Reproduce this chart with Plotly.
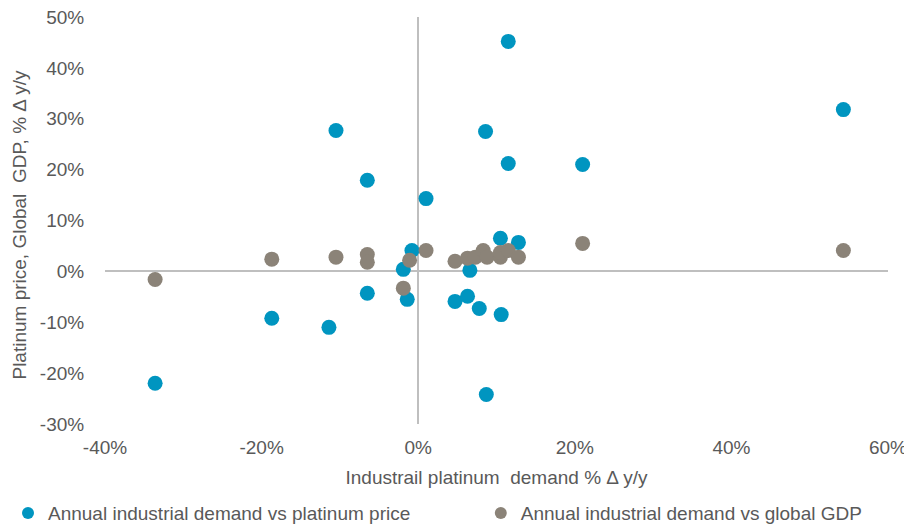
import plotly.graph_objects as go

# Annual industrial demand vs platinum price (% y/y)
price_x = [-33.6, -18.7, -11.4, -10.5, -6.5, -6.5, -1.9, -1.4, -0.8, 1.0, 6.6, 4.7,
           6.3, 7.8, 10.6, 10.5, 12.8, 11.5, 8.6, 11.5, 21.0, 8.7, 54.3]
price_y = [-22.0, -9.2, -11.0, 27.7, 17.9, -4.3, 0.4, -5.5, 4.1, 14.3, 0.2, -5.9,
           -4.9, -7.3, -8.5, 6.5, 5.7, 45.2, 27.5, 21.2, 21.0, -24.2, 31.8]

# Annual industrial demand vs global GDP (% y/y)
gdp_x = [-33.6, -18.7, -10.5, -6.5, -6.5, -1.9, -1.1, 1.0, 4.7, 6.3, 7.3, 8.3,
         8.8, 10.5, 10.5, 11.5, 12.8, 21.0, 54.3]
gdp_y = [-1.6, 2.4, 2.8, 3.3, 1.8, -3.3, 2.2, 4.1, 2.0, 2.6, 2.8, 4.1,
         2.8, 2.8, 3.7, 4.1, 2.8, 5.5, 4.1]

x_ticks = [-40, -20, 0, 20, 40, 60]
x_tick_labels = ["-40%", "-20%", "0%", "20%", "40%", "60%"]
y_ticks = [-30, -20, -10, 0, 10, 20, 30, 40, 50]
y_tick_labels = ["-30%", "-20%", "-10%", "0%", "10%", "20%", "30%", "40%", "50%"]

X_TITLE = "Industrail platinum  demand % \u0394 y/y"
Y_TITLE = "Platinum price, Global  GDP, % \u0394 y/y"

BLUE = "#0095C0"
GREY = "#8B8378"
TEXT = "#595959"
FONT = "Liberation Sans, Arial, sans-serif"
FS = 19

fig = go.Figure()
fig.add_trace(go.Scatter(
    x=price_x, y=price_y, mode="markers",
    name="Annual industrial demand vs platinum price",
    marker=dict(color=BLUE, size=15, line=dict(width=0)),
    legend="legend",
))
fig.add_trace(go.Scatter(
    x=gdp_x, y=gdp_y, mode="markers",
    name="Annual industrial demand vs global GDP",
    marker=dict(color=GREY, size=15, line=dict(width=0)),
    legend="legend2",
))

# The page body has an 8px margin, so the figure is sized/offset to compensate.
legend_common = dict(yref="container", xref="container", y=0.025, yanchor="middle",
                     xanchor="left", bgcolor="rgba(0,0,0,0)",
                     font=dict(size=FS, color=TEXT, family=FONT),
                     itemsizing="constant", itemwidth=30)

fig.update_layout(
    width=904, height=518,
    margin=dict(l=97, r=24, t=9, b=102, autoexpand=False),
    paper_bgcolor="white", plot_bgcolor="white",
    font=dict(family=FONT, size=FS, color=TEXT),
    showlegend=True,
    legend=dict(x=0.0, **legend_common),
    legend2=dict(x=0.523, **legend_common),
    xaxis=dict(range=[-40, 60], tickvals=x_ticks, ticktext=x_tick_labels,
               showgrid=False, zeroline=True, zerolinecolor="#BFBFBF", zerolinewidth=2,
               showline=False, ticks="outside", ticklen=6, tickcolor="rgba(0,0,0,0)",
               automargin=False, ticklabeloverflow="allow",
               tickfont=dict(size=FS, color=TEXT),
               title=dict(text=X_TITLE, font=dict(size=FS, color=TEXT), standoff=13)),
    yaxis=dict(range=[-30, 50], tickvals=y_ticks, ticktext=y_tick_labels,
               showgrid=False, zeroline=True, zerolinecolor="#BFBFBF", zerolinewidth=2,
               showline=False, ticks="outside", ticklen=16, tickcolor="rgba(0,0,0,0)",
               automargin=False, ticklabeloverflow="allow",
               tickfont=dict(size=FS, color=TEXT)),
    annotations=[dict(text=Y_TITLE, textangle=-90, showarrow=False,
                      xref="paper", yref="paper", x=-0.1086, y=0.49,
                      xanchor="center", yanchor="middle",
                      font=dict(size=FS, color=TEXT, family=FONT))],
)

fig.write_html("out.html", config={"displayModeBar": False})
